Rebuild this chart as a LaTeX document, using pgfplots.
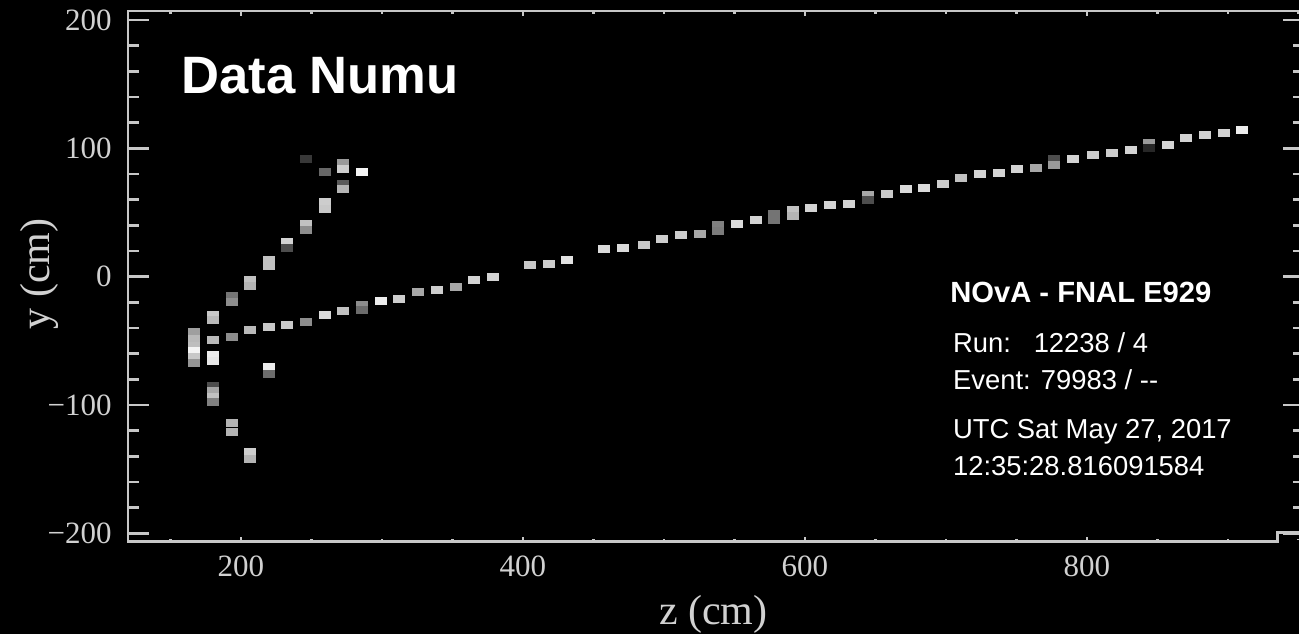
\documentclass[border=0pt]{standalone}
\usepackage{fontspec}
\setmainfont{Liberation Serif}
\newfontfamily\hel{Liberation Sans}
\usepackage{pgfplots}
\pgfplotsset{compat=1.18}
\usepackage{pgfplotstable}
\definecolor{axgray}{gray}{0.78}
\definecolor{lblgray}{gray}{0.82}
\pgfdeclareplotmark{hit}{\pgfpathrectangle{\pgfqpoint{-2.95pt}{-2.0pt}}{\pgfqpoint{5.9pt}{4.0pt}}\pgfusepathqfill}

\pgfplotstableread{
z y g
166.7 -43.1 0.62
166.7 -48.6 0.72
166.7 -54.0 0.74
166.7 -57.9 0.95
166.7 -62.6 0.78
166.7 -67.3 0.58
180.1 -29.9 0.78
180.1 -33.8 0.72
180.1 -49.1 0.72
180.1 -61.0 0.92
180.1 -65.7 0.90
180.1 -85.2 0.30
180.1 -89.1 0.65
180.1 -93.8 0.75
180.1 -97.3 0.50
193.6 -15.0 0.45
193.6 -19.7 0.55
193.6 -47.0 0.55
193.6 -114.0 0.70
193.6 -121.0 0.70
206.4 -2.6 0.75
206.4 -7.2 0.70
206.4 -41.5 0.72
206.4 -136.7 0.80
206.4 -142.2 0.70
219.9 13.0 0.75
219.9 8.3 0.75
219.9 -39.2 0.78
219.9 -70.4 0.92
219.9 -75.8 0.42
232.6 27.0 0.82
232.6 22.0 0.30
232.6 -37.6 0.78
246.1 91.7 0.22
246.1 41.1 0.75
246.1 36.4 0.55
246.1 -35.3 0.55
259.6 81.6 0.40
259.6 58.2 0.80
259.6 52.8 0.78
259.6 -29.9 0.85
272.3 88.3 0.60
272.3 83.6 0.80
272.3 72.3 0.35
272.3 68.0 0.70
272.3 -26.7 0.75
285.8 81.6 0.95
285.8 -22.1 0.55
285.8 -26.0 0.42
299.3 -19.0 0.92
312.1 -17.4 0.80
325.5 -11.9 0.65
339.0 -10.3 0.80
352.5 -8.0 0.65
365.2 -2.6 0.82
378.7 -0.2 0.82
405.0 9.1 0.78
418.4 9.9 0.80
431.2 13.0 0.88
457.4 21.2 0.85
470.9 22.4 0.85
485.8 24.7 0.78
498.6 29.4 0.80
512.1 32.5 0.80
525.5 33.3 0.65
538.3 40.3 0.50
538.3 35.6 0.48
551.8 41.1 0.85
565.2 44.2 0.82
578.0 48.9 0.45
578.0 44.2 0.45
591.5 52.0 0.75
591.5 47.3 0.70
604.3 53.5 0.82
617.7 55.9 0.82
631.2 56.7 0.82
644.7 63.3 0.65
644.7 59.4 0.30
658.2 64.5 0.78
671.6 68.4 0.85
684.4 69.1 0.85
697.9 72.3 0.80
710.6 76.9 0.75
724.1 80.0 0.82
737.6 80.8 0.82
750.4 83.9 0.82
763.8 84.7 0.65
776.6 91.3 0.30
776.6 87.4 0.60
790.1 91.7 0.82
804.3 94.9 0.80
817.7 96.4 0.80
831.2 98.7 0.82
844.0 103.8 0.60
844.0 99.9 0.15
857.4 102.6 0.82
870.2 108.1 0.82
883.7 110.4 0.82
897.2 112.0 0.82
909.9 114.3 0.92
}\hits

\begin{document}
\begin{tikzpicture}
\useasboundingbox (-64pt,-46.15pt) rectangle (585.5pt,270.85pt);
\fill[black] (-64pt,-46.15pt) rectangle (585.5pt,270.85pt);
\begin{axis}[
  at={(0,0)}, anchor=south west,
  scale only axis, width=588pt, height=265.35pt,
  xmin=119.9, xmax=954, ymin=-206.5, ymax=207,
  clip=false,
  axis line style={axgray, line width=1.3pt},
  tick style={axgray, line width=1.3pt},
  tick align=inside,
  major tick length=10.5pt, minor tick length=5.5pt,
  xtick style={/pgfplots/major tick length=2.5pt, /pgfplots/minor tick length=1.5pt},
  xtick={200,400,600,800},
  xticklabels={200,400,600,800},
  minor xtick={150,250,300,350,450,500,550,650,700,750,850,900,950},
  ytick={-200,-100,0,100,200},
  yticklabels={−200,−100,0,100,200},
  minor y tick num=4,
  ticklabel style={lblgray, font=\fontsize{15.5}{18}\selectfont, inner sep=0pt},
  yticklabel style={xshift=-8pt},
  xticklabel style={yshift=-6.7pt},
  xlabel={z (cm)}, ylabel={y (cm)},
  label style={lblgray, font=\fontsize{21}{25}\selectfont, inner sep=0pt},
  xlabel style={at={(axis description cs:0.4977,-0.1553)}, anchor=base},
  ylabel style={at={(axis description cs:-0.0671,0.5045)}, anchor=base, rotate=0},
  colormap={bw}{gray(0cm)=(0); gray(1cm)=(1)},
  point meta min=0, point meta max=1,
]
\addplot[scatter, only marks, mark=hit, point meta=explicit,
  scatter/use mapped color={draw=none, fill=mapped color}]
  table[x=z, y=y, meta=g] {\hits};

\node[anchor=base west, inner sep=0pt, white, font=\hel\bfseries\fontsize{26.3}{30}\selectfont]
  at (axis cs:157.4,142.9) {Data Numu};
\node[anchor=base west, inner sep=0pt, white, font=\hel\bfseries\fontsize{14.6}{17}\selectfont]
  at (axis cs:702.8,-20.3) {NOvA - FNAL E929};
\node[anchor=base west, inner sep=0pt, white, font=\hel\fontsize{13.7}{16}\selectfont]
  at (axis cs:704.8,-59.2) {Run:\ \ \ 12238 / 4};
\node[anchor=base west, inner sep=0pt, white, font=\hel\fontsize{13.7}{16}\selectfont]
  at (axis cs:704.8,-87.8) {Event: 79983 / -{}-};
\node[anchor=base west, inner sep=0pt, white, font=\hel\fontsize{13.7}{16}\selectfont]
  at (axis cs:704.8,-126.0) {UTC Sat May 27, 2017};
\node[anchor=base west, inner sep=0pt, white, font=\hel\fontsize{13.7}{16}\selectfont]
  at (axis cs:704.8,-154.6) {12:35:28.816091584};
\coordinate (stepA) at (axis cs:935,-206.5);
\coordinate (stepB) at (axis cs:935,-199.5);
\coordinate (stepC) at (axis cs:960,-199.5);
\coordinate (stepD) at (axis cs:960,-206.5);
\end{axis}
\fill[black] ([xshift=0.8pt,yshift=-1.5pt]stepA) rectangle ([yshift=1pt]stepD);
\draw[axgray, line width=1.3pt] ([yshift=-0.65pt]stepA) -- (stepB) -- (stepC);
\end{tikzpicture}
\end{document}
